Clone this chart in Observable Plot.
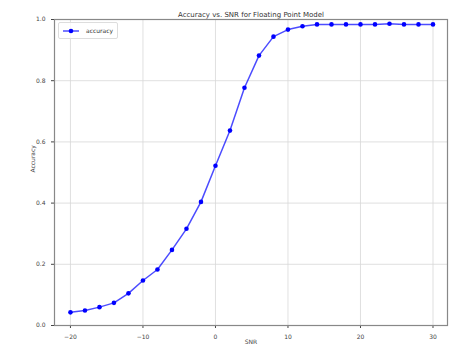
<!DOCTYPE html>
<html><head><meta charset="utf-8">
<script src="https://cdn.jsdelivr.net/npm/d3@7"></script>
<script src="https://cdn.jsdelivr.net/npm/@observablehq/plot@0.6"></script>
<style>
body{margin:0;background:#fff;font-family:"DejaVu Sans",sans-serif;}
#wrap{position:relative;width:451px;height:346px;}
#legend{position:absolute;left:58px;top:22px;width:58px;height:15px;border:1px solid #ddd;border-radius:2px;background:rgba(255,255,255,0.8);font-size:6px;color:#333;display:flex;align-items:center;}
</style></head>
<body><div id="wrap"><div id="legend"><svg width="24" height="10"><line x1="4" x2="20" y1="5" y2="5" stroke="#0000ff" stroke-width="1.5" stroke-opacity="0.7"/><circle cx="12" cy="5" r="2.3" fill="#0000ff"/></svg><span style="margin-left:3px">accuracy</span></div></div>
<script>
const snr = [-20,-18,-16,-14,-12,-10,-8,-6,-4,-2,0,2,4,6,8,10,12,14,16,18,20,22,24,26,28,30];
const accuracy = [0.043,0.049,0.060,0.074,0.105,0.147,0.183,0.247,0.316,0.404,0.522,0.637,0.777,0.882,0.944,0.967,0.978,0.984,0.984,0.984,0.984,0.984,0.986,0.984,0.984,0.984];
const xTicks = [-20,-10,0,10,20,30];
const yTicks = [0,0.2,0.4,0.6,0.8,1.0];
const title = "Accuracy vs. SNR for Floating Point Model";
const xLabel = "SNR";
const yLabel = "Accuracy";

const data = snr.map((s,i)=>({snr:s, acc:accuracy[i]}));

const chart = Plot.plot({
  width:451, height:346,
  marginLeft:54, marginRight:4, marginTop:19, marginBottom:21,
  style:{fontFamily:"DejaVu Sans, sans-serif", fontSize:"6px", color:"#444", background:"#fff"},
  x:{domain:[-22.2,32.0], ticks:xTicks, tickFormat:d=>d<0?"\u2212"+Math.abs(d):String(d), tickSize:3, label:null},
  y:{domain:[0,1], ticks:yTicks, tickFormat:d=>d.toFixed(1), tickSize:3, label:null},
  marks:[
    Plot.gridX(xTicks,{stroke:"#d8d8d8", strokeOpacity:1, strokeWidth:0.8}),
    Plot.gridY(yTicks,{stroke:"#d8d8d8", strokeOpacity:1, strokeWidth:0.8}),
    Plot.line(data,{x:"snr", y:"acc", stroke:"#0000ff", strokeWidth:1.5, strokeOpacity:0.7}),
    Plot.dot(data,{x:"snr", y:"acc", fill:"#0000ff", r:2.3}),
    Plot.frame({stroke:"#888", strokeWidth:1.2}),
    Plot.text([title],{frameAnchor:"top", dy:-7, fontSize:7, fill:"#333"}),
    Plot.text([xLabel],{frameAnchor:"bottom", dy:18, fontSize:6, fill:"#444"}),
    Plot.text([yLabel],{frameAnchor:"left", dx:-21, rotate:-90, fontSize:6, fill:"#444"})
  ]
});
document.getElementById("wrap").prepend(chart);
</script></body></html>
